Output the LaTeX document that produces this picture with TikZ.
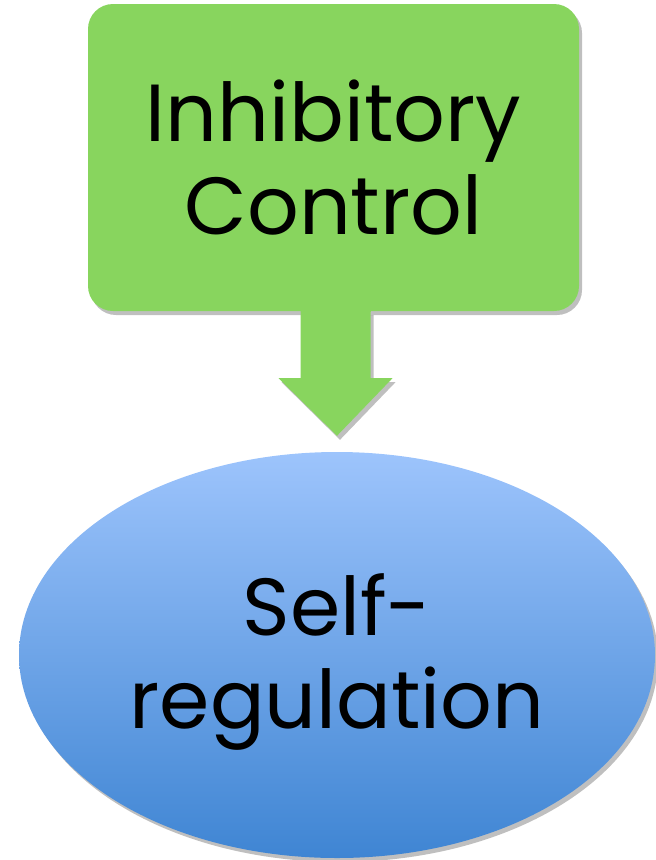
\documentclass[tikz,border=0pt]{standalone}
\usepackage{fontspec}
\setmainfont{Poppins}
\usetikzlibrary{shapes.geometric,shadows,calc}

\definecolor{boxgreen}{HTML}{88D55E}
\definecolor{ovaltop}{HTML}{9DC4FC}
\definecolor{ovalbottom}{HTML}{3F85D3}

\tikzset{
  softshadow/.style={drop shadow={shadow xshift=3pt,shadow yshift=-4pt,opacity=0.25,fill=black}},
  greenbox/.style={fill=boxgreen,rounded corners=25pt,minimum width=491pt,minimum height=307pt,
                   inner sep=0pt,softshadow},
  oval/.style={ellipse,shading=axis,top color=ovaltop,bottom color=ovalbottom,
               minimum width=636pt,minimum height=406pt,inner sep=0pt,softshadow},
  bigtext/.style={align=center,font=\fontsize{81}{93}\selectfont}
}

\begin{document}
\begin{tikzpicture}[x=1pt,y=1pt]
    \useasboundingbox (0,0) rectangle (656,-860);
    \node[greenbox] (inhib) at (333.5,-157.5) {};
    \node[oval] (selfreg) at (337,-655) {};
    \node[bigtext] (inhibtext) at ($(inhib.center)+(0,0)$) {Inhibitory\\Control};
    \node[bigtext] (selftext) at ($(selfreg.center)+(0,-7)$) {Self-\\regulation};
    % block arrow from box down to the oval
    \fill[boxgreen,softshadow]
        ($(inhib.south)+(-33,0)$) -- ($(inhib.south)+(37,0)$) -- ($(inhib.south)+(37,-67)$)
        -- ($(inhib.south)+(59,-67)$) -- ($(selfreg.north)+(0,16)$) -- ($(inhib.south)+(-55,-67)$)
        -- ($(inhib.south)+(-33,-67)$) -- cycle;
    \fill[boxgreen] ($(inhib.south)+(-33,1)$) rectangle ($(inhib.south)+(37,-1)$);
\end{tikzpicture}
\end{document}
